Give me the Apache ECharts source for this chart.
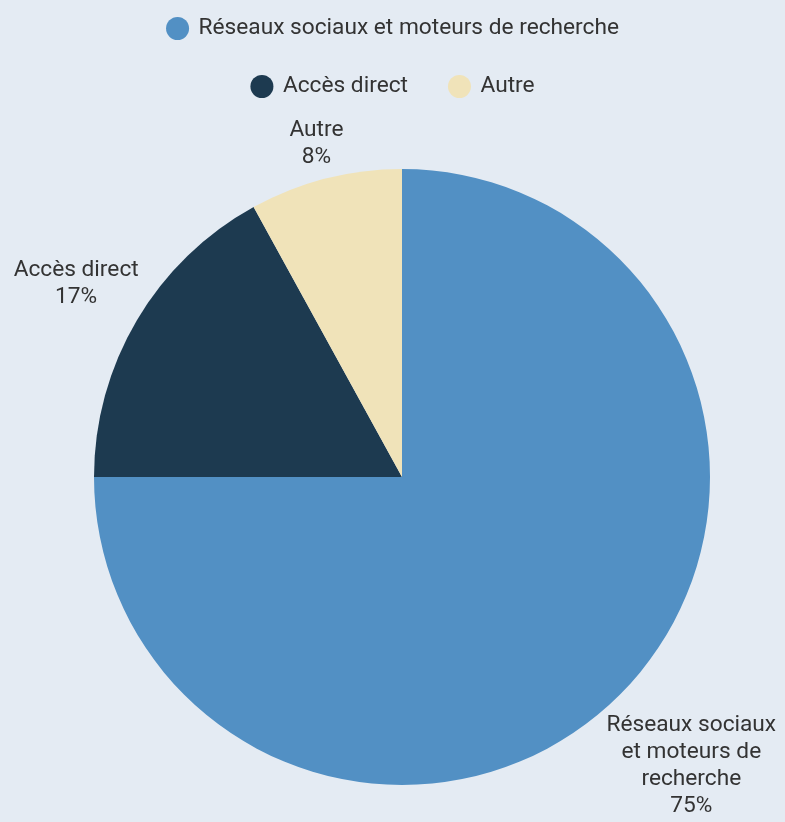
<!DOCTYPE html>
<html>
<head>
<meta charset="utf-8">
<script src="https://cdn.jsdelivr.net/npm/echarts@6/dist/echarts.min.js"></script>
<style>
  html, body { margin: 0; padding: 0; background: #e4ebf3; }
  #main { width: 785px; height: 822px; }
</style>
</head>
<body>
<div id="main"></div>
<script>
// data
const categories = ['Réseaux sociaux et moteurs de recherche', 'Accès direct', 'Autre'];
const values = [75, 17, 8];
const labelTexts = ['Réseaux sociaux\net moteurs de\nrecherche', 'Accès direct', 'Autre'];
const colors = ['#5290c4', '#1d3a50', '#f0e3b9'];

// pie geometry
const cx = 402, cy = 477, r = 308;
const total = values.reduce((a, b) => a + b, 0);

// mid angle of a slice, clockwise from 12 o'clock
function midAngle(i) {
  let before = 0;
  for (let k = 0; k < i; k++) before += values[k];
  return (before + values[i] / 2) / total * 2 * Math.PI;
}

const chart = echarts.init(document.getElementById('main'));

const legendText = { fontFamily: 'Roboto', fontSize: 22.7, color: '#333' };

chart.setOption({
  backgroundColor: '#e4ebf3',
  textStyle: { fontFamily: 'Roboto' },
  legend: [
    {
      top: 12, left: 'center', icon: 'circle',
      itemWidth: 32, itemHeight: 23,
      textStyle: legendText,
      data: [categories[0]]
    },
    {
      top: 70, left: 'center', icon: 'circle',
      itemWidth: 32, itemHeight: 23, itemGap: 40,
      textStyle: legendText,
      data: [categories[1], categories[2]]
    }
  ],
  series: [{
    type: 'pie',
    center: [cx, cy],
    radius: r,
    startAngle: 90,
    clockwise: true,
    animation: false,
    label: {
      show: true,
      position: 'outside',
      overflow: 'none',
      fontFamily: 'Roboto',
      fontSize: 22.7,
      lineHeight: 27,
      color: '#333',
      formatter: p => labelTexts[p.dataIndex] + '\n' + p.percent + '%'
    },
    labelLine: { show: false },
    // put each label just outside the rim, along the slice's middle direction
    labelLayout: function (p) {
      const a = midAngle(p.dataIndex);
      const dx = Math.sin(a), dy = -Math.cos(a);
      const w = p.labelRect.width, h = p.labelRect.height;
      const d = r + 3 + Math.abs(dx) * w / 2 + Math.abs(dy) * h / 2;
      return { x: cx + d * dx, y: cy + d * dy, align: 'center', verticalAlign: 'middle' };
    },
    data: categories.map((c, i) => ({
      name: c,
      value: values[i],
      itemStyle: { color: colors[i] }
    }))
  }]
});
</script>
</body>
</html>
